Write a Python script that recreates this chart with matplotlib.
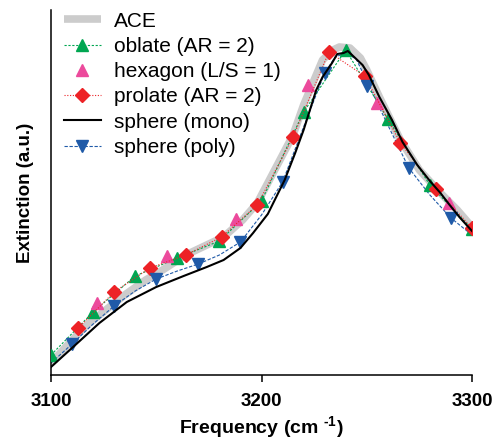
import matplotlib
matplotlib.use("Agg")
import matplotlib.pyplot as plt

plt.rcParams['font.family'] = ['Liberation Sans', 'DejaVu Sans']
plt.rcParams['axes.unicode_minus'] = False
plt.rcParams['mathtext.fontset'] = 'custom'
plt.rcParams['mathtext.rm'] = 'Liberation Sans:bold'
plt.rcParams['mathtext.bf'] = 'Liberation Sans:bold'

# ACE reference curve
ace_x = [3100, 3107, 3116, 3126, 3135, 3145, 3153, 3164, 3182, 3191, 3198, 3207, 3215, 3220,
         3225, 3229, 3234, 3237, 3242, 3247, 3250, 3256, 3266, 3275, 3285, 3293, 3300]
ace_y = [12, 28, 48, 65, 80, 95, 105, 120, 138, 155, 172, 208, 240, 270,
         295, 315, 325, 328, 327, 317, 305, 278, 235, 205, 182, 165, 148]

# oblate (AR = 2)
obl_x = [3100, 3120, 3140, 3160, 3180, 3200, 3220, 3240, 3260, 3280, 3300]
obl_y = [20, 63, 99, 117, 134, 174, 263, 325, 256, 190, 146]

# hexagon (L/S = 1)
hex_x = [3122, 3155, 3188, 3222, 3255, 3289]
hex_y = [72, 119, 156, 290, 272, 172]

# prolate (AR = 2)
pro_x = [3113, 3130, 3147, 3164, 3181, 3198, 3215, 3232, 3249, 3266, 3283, 3300]
pro_y = [47, 83, 107, 120, 138, 170, 238, 323, 299, 232, 186, 147]

# sphere (mono)
mono_x = [3100, 3110.5, 3123, 3136, 3150, 3163, 3174, 3182, 3190, 3196, 3203, 3211, 3216, 3220,
          3223, 3226, 3229, 3233.5, 3236, 3239, 3241, 3244, 3248, 3251, 3256, 3262, 3267, 3274,
          3280, 3285, 3289, 3294, 3300]
mono_y = [8, 28, 52, 73, 88, 99, 108, 115, 127, 142, 161, 195, 222, 245,
          265, 285, 298, 312, 321, 322, 324, 318, 310, 300, 278, 255, 233, 210,
          194, 182, 171, 158, 144]

# sphere (poly): line and markers
poly_x = [3100, 3110, 3120, 3130, 3140, 3150, 3160, 3170, 3180, 3190, 3200, 3210, 3220, 3230,
          3235, 3240, 3245, 3250, 3260, 3270, 3280, 3290, 3300]
poly_y = [12, 31, 51, 69, 84, 96, 104, 111, 120, 133, 160, 193, 248, 302,
          318, 322, 316, 294, 250, 207, 180, 157, 140]
polym_x = [3110, 3130, 3150, 3170, 3190, 3210, 3230, 3250, 3270, 3290]
polym_y = [31, 69, 96, 111, 133, 193, 302, 289, 207, 157]

fig = plt.figure(figsize=(4.93, 4.40), dpi=100)
ax = fig.add_axes([51/493, 65/440, 421/493, 365/440])

green = '#00a651'
pink = '#ec4a9c'
red = '#ed2226'
blue = '#1f5aa8'

ax.plot(ace_x, ace_y, color='#cccccc', lw=5.5, solid_capstyle='butt', label='ACE', zorder=1)
ax.plot(obl_x, obl_y, color=green, ls=(0, (2, 1.5)), lw=0.8, marker='^', ms=8,
        mec=green, mfc=green, label='oblate (AR = 2)', zorder=3)
ax.plot(hex_x, hex_y, ls='none', marker='^', ms=8, color=pink,
        label='hexagon (L/S = 1)', zorder=3)
ax.plot(pro_x, pro_y, color=red, ls=(0, (1, 1.5)), lw=0.8, marker='D', ms=7,
        label='prolate (AR = 2)', zorder=3)
ax.plot(mono_x, mono_y, color='black', lw=1.5, label='sphere (mono)', zorder=4)
ax.plot(poly_x, poly_y, color=blue, ls=(0, (3, 1.5)), lw=0.8, zorder=2)
ax.plot(polym_x, polym_y, ls='none', marker='v', ms=8, color=blue, zorder=3)
# legend proxy for poly
ax.plot([], [], color=blue, ls=(0, (3, 1.5)), lw=0.8, marker='v', ms=8, label='sphere (poly)')

ax.set_xlim(3100, 3300)
ax.set_ylim(0, 365)
ax.set_xticks([3100, 3200, 3300])
ax.set_yticks([])
for s in ['top', 'right']:
    ax.spines[s].set_visible(False)
for s in ['left', 'bottom']:
    ax.spines[s].set_linewidth(1.1)
ax.tick_params(axis='x', direction='out', length=5, width=1.1, labelsize=13.5, pad=8)
for t in ax.get_xticklabels():
    t.set_fontweight('bold')

ax.set_xlabel('Frequency (cm $^{\\text{-}1}$)', fontsize=14, fontweight='bold', labelpad=3)
ax.set_ylabel('Extinction (a.u.)', fontsize=13.5, fontweight='bold', labelpad=12)

ax.legend(loc='upper left', bbox_to_anchor=(0.0, 1.03), frameon=False, fontsize=15,
          handlelength=1.8, handletextpad=0.6, labelspacing=0.3, borderaxespad=0.2)

fig.savefig('out.png', dpi=100)
